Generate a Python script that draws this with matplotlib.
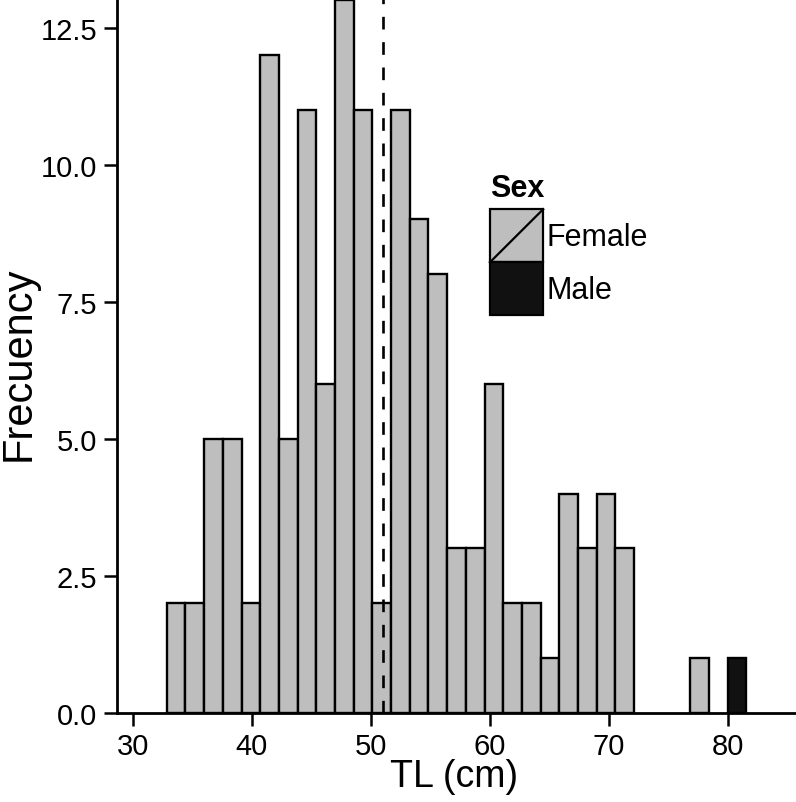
import numpy as np
import matplotlib
matplotlib.use("Agg")
import matplotlib.pyplot as plt
from matplotlib.patches import Rectangle
from matplotlib.lines import Line2D
from matplotlib.legend_handler import HandlerBase

plt.rcParams['font.family'] = ['Liberation Sans', 'DejaVu Sans']

# histogram bins (TL, cm)
bin_start = 32.86
bin_width = 1.571
female_counts = [2, 2, 5, 5, 2, 12, 5, 11, 6, 13, 11, 2, 11, 9, 8, 3, 3, 6, 2, 2,
                 1, 4, 3, 4, 3, 0, 0, 0, 1, 0, 0]
male_counts = [0] * 30 + [1]
mean_tl = 51.03

sex_labels = ["Female", "Male"]
sex_colors = ["#bebebe", "#111111"]
x_ticks = [30, 40, 50, 60, 70, 80]
y_ticks = [0.0, 2.5, 5.0, 7.5, 10.0, 12.5]


class KeyHandler(HandlerBase):
    # ggplot-like legend key: filled square with a diagonal
    def create_artists(self, legend, orig_handle, xdescent, ydescent,
                       width, height, fontsize, trans):
        fc = orig_handle.get_facecolor()
        r = Rectangle((-xdescent, -ydescent), width, height,
                      facecolor=fc, edgecolor='black', lw=1.6, transform=trans)
        out = [r]
        if fc[0] > 0.5:
            out.append(Line2D([-xdescent, -xdescent + width],
                              [-ydescent, -ydescent + height],
                              color='black', lw=1.6, transform=trans))
        return out


fig = plt.figure(figsize=(7.96, 8.03), dpi=100)
ax = fig.add_axes([117 / 796, 89 / 803, 1 - 117 / 796, 1 - 89 / 803])

nb = len(female_counts)
left = bin_start + bin_width * np.arange(nb)
female = np.array(female_counts)
male = np.array(male_counts)

mf = female > 0
ax.bar(left[mf], female[mf], width=bin_width, align='edge',
       color=sex_colors[0], edgecolor='black', linewidth=1.7, zorder=2)
mm = male > 0
ax.bar(left[mm], male[mm], bottom=female[mm], width=bin_width, align='edge',
       color=sex_colors[1], edgecolor='black', linewidth=1.7, zorder=2)

ax.axvline(mean_tl, color='black', lw=1.9, linestyle=(0, (4.8, 4.8)), zorder=3)

ax.set_xlim(28.68, 85.74)
ax.set_ylim(0, 13.02)
ax.set_xticks(x_ticks)
ax.set_xticklabels([str(t) for t in x_ticks])
ax.set_yticks(y_ticks)
ax.set_yticklabels(["%.1f" % t for t in y_ticks])

for s in ['top', 'right']:
    ax.spines[s].set_visible(False)
for s in ['left', 'bottom']:
    ax.spines[s].set_linewidth(2.0)
    ax.spines[s].set_zorder(4)
ax.tick_params(axis='both', length=9.4, width=1.8, labelsize=21, pad=5,
               colors='black')
ax.tick_params(axis='x', pad=4)

ax.set_xlabel("TL (cm)", fontsize=27)
ax.xaxis.set_label_coords(0.497, -0.063)
ax.set_ylabel("Frecuency", fontsize=30)
ax.yaxis.set_label_coords(-0.115, 0.49)

handles = [Rectangle((0, 0), 1, 1, facecolor=c) for c in sex_colors]
leg = ax.legend(handles, sex_labels, title="Sex", loc='upper left',
                bbox_to_anchor=(490 / 796, 1 - 174 / 803),
                bbox_transform=fig.transFigure, frameon=False,
                fontsize=22, title_fontproperties={'weight': 'bold', 'size': 22},
                handler_map={Rectangle: KeyHandler()},
                handlelength=1.74, handleheight=2.29, labelspacing=0,
                handletextpad=0.12, borderpad=0, borderaxespad=0,
                alignment='left')
leg._legend_box.sep = 4.5

fig.savefig("out.png", dpi=100)
